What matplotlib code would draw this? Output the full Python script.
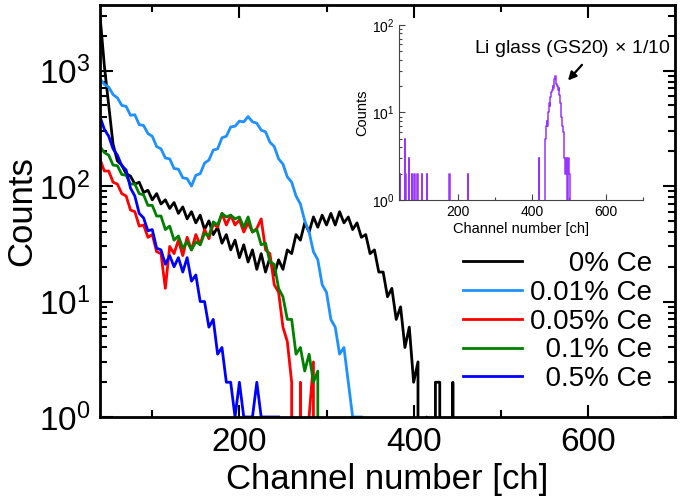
import numpy as np
import matplotlib
matplotlib.use("Agg")
import matplotlib.pyplot as plt
from matplotlib.ticker import MultipleLocator

plt.rcParams['font.family'] = ['Liberation Sans', 'DejaVu Sans']
plt.rcParams['mathtext.fontset'] = 'custom'
plt.rcParams['mathtext.rm'] = 'Liberation Sans'
plt.rcParams['mathtext.it'] = 'Liberation Sans:italic'
plt.rcParams['mathtext.bf'] = 'Liberation Sans:bold'

# spectra, one value every 5 channels starting at ch 40
BIN = 5
START = 40
ce_0 = [3000, 1100, 500, 230, 165, 152, 128, 122, 104, 108, 88, 92, 76, 86, 70, 76,
        64, 72, 58, 66, 52, 60, 48, 56, 42, 50, 38, 44, 32, 38, 28, 34, 24, 31, 22,
        28, 19, 26, 18, 24, 17, 23, 19, 28, 26, 38, 34, 48, 40, 54, 44, 56, 46, 58,
        46, 60, 48, 54, 42, 48, 36, 38, 26, 28, 18, 18, 11, 13, 7, 9, 4, 6, 2, 3,
        0, 1, 0, 2, 2, 0, 0, 2, 0]
ce_001 = [850, 760, 720, 620, 580, 500, 490, 410, 415, 340, 335, 285, 270, 220, 210,
          175, 172, 142, 140, 118, 116, 100, 124, 128, 158, 168, 205, 210, 262, 270,
          325, 330, 365, 360, 400, 360, 350, 305, 295, 240, 220, 172, 155, 120, 108,
          82, 70, 50, 40, 27, 23, 14, 12, 7, 6, 3.5, 4, 2, 1, 1, 1]
ce_005 = [170, 135, 135, 108, 104, 86, 82, 62, 60, 45, 46, 36, 38, 27, 26, 13, 30, 26,
          34, 25, 36, 28, 38, 31, 42, 35, 47, 44, 58, 46, 56, 46, 51, 40, 48, 40, 43,
          52, 28, 26, 14, 12, 6, 4.5, 2, 0, 2, 0, 1, 3, 0]
ce_01 = [220, 195, 185, 152, 150, 126, 124, 104, 104, 86, 84, 68, 68, 55, 55, 42, 45,
         34, 37, 29, 33, 28, 33, 31, 39, 37, 49, 46, 58, 54, 56, 52, 54, 44, 54, 40,
         42, 31, 32, 22, 21, 13, 11, 7, 7, 3.5, 4, 2.5, 3.5, 2, 2.5, 0]
ce_05 = [400, 310, 270, 210, 185, 150, 138, 96, 82, 58, 53, 41, 42, 29, 28, 21, 25,
         20, 24, 18, 24, 15, 17, 10, 10, 6, 7, 3.5, 4, 2, 2, 1, 2, 1, 1, 1, 2, 1, 1,
         1, 1, 1]

labels = ["     0% Ce", "0.01% Ce", "0.05% Ce", "  0.1% Ce", "  0.5% Ce"]
colors = ["black", "#1E90FF", "#FF0000", "#008000", "#0000FF"]

# Li glass (GS20) x 1/10 inset
li_spike_ch = [40, 42, 56, 58, 67, 75, 82, 90, 102, 115, 177, 226, 419]
li_spike_counts = [3, 2, 5, 2, 3, 2, 2, 2, 2, 2, 2, 2, 3]
li_peak_ch = list(range(434, 504, 2))
li_peak_counts = [0, 5, 7, 8, 7, 10, 13, 12, 15, 17, 18, 20, 19, 24, 26, 22, 21, 20,
                  18, 19, 16, 13, 11, 9, 7, 6, 5, 3, 2, 3, 3, 1, 3, 2, 0]

fig = plt.figure(figsize=(6.85, 5.04), dpi=100)
ax = fig.add_axes([100 / 685, 87 / 504, 575 / 685, 412 / 504])

for counts, lab, col in zip([ce_0, ce_001, ce_005, ce_01, ce_05], labels, colors):
    ch = np.arange(START, START + BIN * len(counts), BIN)
    ax.plot(ch, counts, color=col, lw=2.0, label=lab)

ax.set_yscale('log')
ax.set_xlim(40, 700)
ax.set_ylim(1, 3700)
ax.xaxis.set_major_locator(MultipleLocator(200))
ax.xaxis.set_minor_locator(MultipleLocator(100))
ax.tick_params(which='both', direction='in', top=True, right=True, width=1.5,
               labelsize=24, pad=7)
ax.tick_params(which='major', length=9)
ax.tick_params(which='minor', length=5)
for s in ax.spines.values():
    s.set_linewidth(2)
ax.set_xlabel("Channel number [ch]", fontsize=25, labelpad=4)
ax.set_ylabel("Counts", fontsize=25)
ax.yaxis.set_label_coords(-0.108, 0.5)

leg = ax.legend(loc='upper right', bbox_to_anchor=(652 / 685, 1 - 251 / 504),
                bbox_transform=fig.transFigure, frameon=False, fontsize=20,
                handlelength=2.1, handletextpad=0.3, labelspacing=0.1,
                borderpad=0, borderaxespad=0)

# inset
axi = fig.add_axes([399 / 685, 1 - 200 / 504, 244 / 685, 175 / 504])
axi.patch.set_alpha(0)
li_ch = np.arange(38, 510)
li_counts = np.zeros(len(li_ch))
for c, n in zip(li_spike_ch, li_spike_counts):
    li_counts[c - 38] = n
for c, n in zip(li_peak_ch, li_peak_counts):
    li_counts[c - 38:c - 36] = n
axi.step(li_ch, li_counts, where='mid', color='#9933FF', lw=1.1)
axi.set_yscale('log')
axi.set_xlim(40, 700)
axi.set_ylim(1, 100)
axi.xaxis.set_major_locator(MultipleLocator(200))
axi.xaxis.set_minor_locator(MultipleLocator(100))
axi.spines['top'].set_visible(False)
axi.spines['right'].set_visible(False)
for s in ['left', 'bottom']:
    axi.spines[s].set_linewidth(0.8)
    axi.spines[s].set_color('#444444')
axi.tick_params(which='both', direction='in', labelsize=10, color='#444444', width=0.8)
axi.tick_params(which='major', length=4)
axi.tick_params(which='minor', length=2.5)
axi.set_xlabel("Channel number [ch]", fontsize=10.5, labelpad=2)
axi.set_ylabel("Counts", fontsize=10.5, labelpad=2)
axi.text(510, 54, "Li glass (GS20)$\\,\\times\\,$1/10", fontsize=14, ha='center',
         va='center')
axi.annotate('', xy=(492, 22), xytext=(540, 37),
             arrowprops=dict(arrowstyle='-|>', color='black', lw=1.6,
                             mutation_scale=12))

fig.savefig("out.png", dpi=100)
